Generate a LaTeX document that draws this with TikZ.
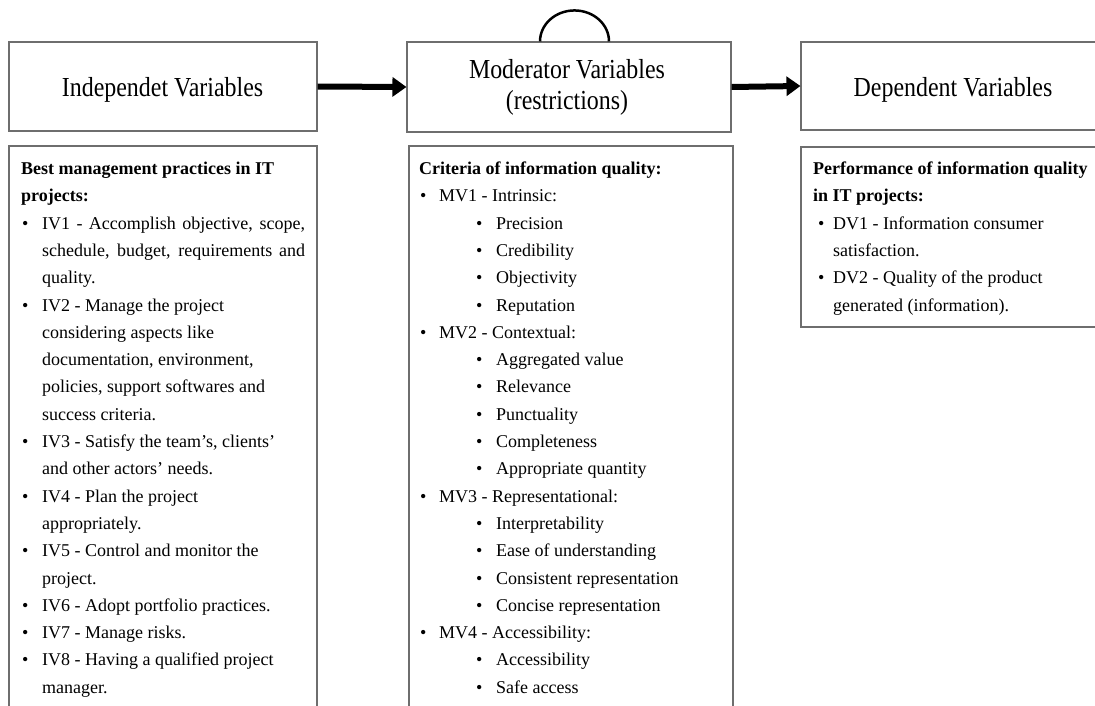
\documentclass[tikz,border=0pt]{standalone}
\usepackage{fontspec}
\setmainfont{Liberation Serif}
\newfontfamily\hdrfont[FakeStretch=0.87]{Liberation Serif}
\usetikzlibrary{arrows.meta,calc}
\definecolor{boxgray}{RGB}{110,110,110}
\newcommand\rowy[1]{174.5+27.3*#1}
\newcommand\bul[1]{\llap{\makebox[#1pt][l]{\textbullet}}}
\begin{document}
\begin{tikzpicture}[x=1pt,y=-1pt,
  box/.style={draw=boxgray,line width=1.1pt,inner sep=0pt},
  htxt/.style={font=\hdrfont\fontsize{27.5}{30}\selectfont,inner sep=0pt,anchor=base},
  ln/.style={font=\fontsize{18}{22}\selectfont,inner sep=0pt,anchor=base west},
  hd/.style={ln,font=\fontsize{18}{22}\selectfont\bfseries},
  arr/.style={line width=6pt,-{Triangle[length=14pt,width=19pt]}},
  selfloop/.style={line width=2.5pt}]
\useasboundingbox (0,0) rectangle (1095,706);
\clip (0,0) rectangle (1095,706);
% header boxes
\node[box,minimum width=308pt,minimum height=89pt] (ivh) at (163,86.5) {};
\node[box,minimum width=324pt,minimum height=90pt] (mvh) at (569,87) {};
\node[box,minimum width=304pt,minimum height=88pt] (dvh) at (953,86) {};
\node[htxt] (ivt) at (162.5,96.3) {Independet Variables};
\node[htxt] (mvt1) at (567,79) {Moderator Variables};
\node[htxt] (mvt2) at (567,109.5) {(restrictions)};
\node[htxt] (dvt) at (953,97) {Dependent Variables};
% body boxes
\node[box,minimum width=308pt,minimum height=574pt] (ivb) at (163,433) {};
\node[box,minimum width=324pt,minimum height=574pt] (mvb) at (571,433) {};
\node[box,minimum width=304pt,minimum height=180pt] (dvb) at (953,237) {};
% connectors
\draw[arr] (ivh.east) -- (mvh.west);
\draw[arr] (mvh.east) -- (dvh.west);
\draw[selfloop] ([xshift=-29pt]mvh.north) arc[start angle=180,end angle=0,x radius=34.5pt,y radius=31pt];
% left text
\node[hd] (iv0) at (21,\rowy{0}) {Best management practices in IT};
\node[hd] (iv1) at (21,\rowy{1}) {projects:};
\node[ln] (iv2) at (42,\rowy{2}) {\bul{20}\makebox[263pt][s]{IV1 - Accomplish objective, scope,}};
\node[ln] (iv3) at (42,\rowy{3}) {\makebox[263pt][s]{schedule, budget, requirements and}};
\node[ln] (iv4) at (42,\rowy{4}) {quality.};
\node[ln] (iv5) at (42,\rowy{5}) {\bul{20}IV2 - Manage the project};
\node[ln] (iv6) at (42,\rowy{6}) {considering aspects like};
\node[ln] (iv7) at (42,\rowy{7}) {documentation, environment,};
\node[ln] (iv8) at (42,\rowy{8}) {policies, support softwares and};
\node[ln] (iv9) at (42,\rowy{9}) {success criteria.};
\node[ln] (iv10) at (42,\rowy{10}) {\bul{20}IV3 - Satisfy the team's, clients'};
\node[ln] (iv11) at (42,\rowy{11}) {and other actors' needs.};
\node[ln] (iv12) at (42,\rowy{12}) {\bul{20}IV4 - Plan the project};
\node[ln] (iv13) at (42,\rowy{13}) {appropriately.};
\node[ln] (iv14) at (42,\rowy{14}) {\bul{20}IV5 - Control and monitor the};
\node[ln] (iv15) at (42,\rowy{15}) {project.};
\node[ln] (iv16) at (42,\rowy{16}) {\bul{20}IV6 - Adopt portfolio practices.};
\node[ln] (iv17) at (42,\rowy{17}) {\bul{20}IV7 - Manage risks.};
\node[ln] (iv18) at (42,\rowy{18}) {\bul{20}IV8 - Having a qualified project};
\node[ln] (iv19) at (42,\rowy{19}) {manager.};
% middle text
\node[hd] (mv0) at (419,\rowy{0}) {Criteria of information quality:};
\node[ln] (mv1) at (439,\rowy{1}) {\bul{19}MV1 - Intrinsic:};
\node[ln] (mv2) at (496,\rowy{2}) {\bul{20}Precision};
\node[ln] (mv3) at (496,\rowy{3}) {\bul{20}Credibility};
\node[ln] (mv4) at (496,\rowy{4}) {\bul{20}Objectivity};
\node[ln] (mv5) at (496,\rowy{5}) {\bul{20}Reputation};
\node[ln] (mv6) at (439,\rowy{6}) {\bul{19}MV2 - Contextual:};
\node[ln] (mv7) at (496,\rowy{7}) {\bul{20}Aggregated value};
\node[ln] (mv8) at (496,\rowy{8}) {\bul{20}Relevance};
\node[ln] (mv9) at (496,\rowy{9}) {\bul{20}Punctuality};
\node[ln] (mv10) at (496,\rowy{10}) {\bul{20}Completeness};
\node[ln] (mv11) at (496,\rowy{11}) {\bul{20}Appropriate quantity};
\node[ln] (mv12) at (439,\rowy{12}) {\bul{19}MV3 - Representational:};
\node[ln] (mv13) at (496,\rowy{13}) {\bul{20}Interpretability};
\node[ln] (mv14) at (496,\rowy{14}) {\bul{20}Ease of understanding};
\node[ln] (mv15) at (496,\rowy{15}) {\bul{20}Consistent representation};
\node[ln] (mv16) at (496,\rowy{16}) {\bul{20}Concise representation};
\node[ln] (mv17) at (439,\rowy{17}) {\bul{19}MV4 - Accessibility:};
\node[ln] (mv18) at (496,\rowy{18}) {\bul{20}Accessibility};
\node[ln] (mv19) at (496,\rowy{19}) {\bul{20}Safe access};
% right text
\node[hd] (dv0) at (813,\rowy{0}) {Performance of information quality};
\node[hd] (dv1) at (813,\rowy{1}) {in IT projects:};
\node[ln] (dv2) at (833,\rowy{2}) {\bul{15}DV1 - Information consumer};
\node[ln] (dv3) at (833,\rowy{3}) {satisfaction.};
\node[ln] (dv4) at (833,\rowy{4}) {\bul{15}DV2 - Quality of the product};
\node[ln] (dv5) at (833,\rowy{5}) {generated (information).};
\end{tikzpicture}
\end{document}
